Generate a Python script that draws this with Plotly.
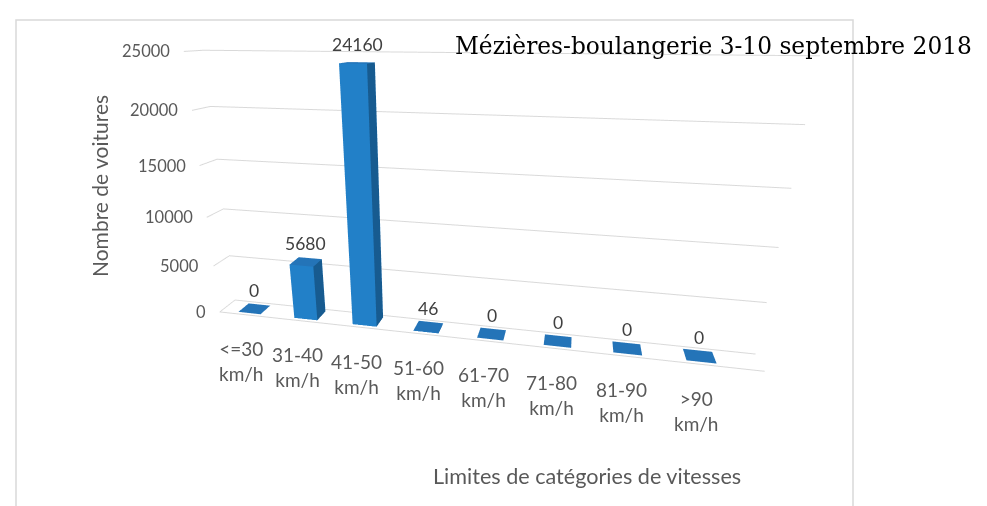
import plotly.graph_objects as go

# ---- data ----
categories = ["<=30<br>km/h", "31-40<br>km/h", "41-50<br>km/h", "51-60<br>km/h",
              "61-70<br>km/h", "71-80<br>km/h", "81-90<br>km/h", ">90<br>km/h"]
values = [0, 5680, 24160, 46, 0, 0, 0, 0]
ytick_vals = [0, 5000, 10000, 15000, 20000, 25000]
title_text = "Mézières-boulangerie 3-10 septembre 2018"
xaxis_title = "Limites de catégories de vitesses"
yaxis_title = "Nombre de voitures"

# ---- styling ----
FRONT = "#2280c8"
SIDE = "#175b90"
TOP = "#2474b8"
GRID = "#d9d9d9"
TXT = "#595959"
FONT = "Lato"

half_w = 0.2
d0, d1 = 0.15, 0.85

xs, ys, zs, I, J, K, fc = [], [], [], [], [], [], []
for idx, v in enumerate(values):
    b = len(xs)
    x0, x1 = idx - half_w, idx + half_w
    corners = [(x0, d0, 0), (x1, d0, 0), (x1, d1, 0), (x0, d1, 0),
               (x0, d0, v), (x1, d0, v), (x1, d1, v), (x0, d1, v)]
    for (cx, cy, cz) in corners:
        xs.append(cx); ys.append(cy); zs.append(cz)
    faces = [((0, 1, 5), FRONT), ((0, 5, 4), FRONT),
             ((1, 2, 6), SIDE), ((1, 6, 5), SIDE),
             ((4, 5, 6), TOP), ((4, 6, 7), TOP),
             ((0, 3, 7), FRONT), ((0, 7, 4), FRONT),
             ((3, 2, 6), FRONT), ((3, 6, 7), FRONT)]
    for (a, bb, c), col in faces:
        I.append(b + a); J.append(b + bb); K.append(b + c); fc.append(col)

fig = go.Figure()
fig.add_trace(go.Mesh3d(x=xs, y=ys, z=zs, i=I, j=J, k=K, facecolor=fc,
                        flatshading=True,
                        lighting=dict(ambient=1, diffuse=0, specular=0, roughness=1, fresnel=0),
                        hoverinfo="skip", showscale=False))

ann = []
for idx, v in enumerate(values):
    ann.append(dict(x=idx, y=0.5, z=v, text=str(v), showarrow=False,
                    yanchor="bottom", yshift=6,
                    font=dict(family=FONT, size=17.5, color="#404040")))
    ann.append(dict(x=idx, y=0, z=0, text=categories[idx], showarrow=False,
                    yanchor="top", yshift=-20, xshift=-6,
                    font=dict(family=FONT, size=19, color=TXT)))
for t in ytick_vals:
    ann.append(dict(x=-0.5, y=0, z=t, text=str(t), showarrow=False,
                    xanchor="right", xshift=-12,
                    font=dict(family=FONT, size=16.5, color=TXT)))

axis_common = dict(showbackground=False, showspikes=False, title=dict(text=""),
                   zeroline=False, showticklabels=False, ticks="")
fig.update_layout(
    width=987, height=506,
    margin=dict(l=0, r=0, t=0, b=0),
    paper_bgcolor="white",
    showlegend=False,
    scene=dict(
        domain=dict(x=[0.0, 0.86], y=[0.0, 1.0]),
        xaxis=dict(axis_common, range=[-0.5, 7.8], showgrid=False, showline=True,
                   linecolor=GRID, linewidth=2),
        yaxis=dict(axis_common, range=[0, 1], showgrid=False),
        zaxis=dict(axis_common, range=[0, 25001], tickvals=ytick_vals,
                   showgrid=True, gridcolor=GRID, gridwidth=2),
        aspectmode="manual",
        aspectratio=dict(x=2.05, y=0.12, z=1.01),
        camera=dict(eye=dict(x=0.333, y=-2.067, z=0.586), center=dict(x=-0.14, y=-0.02, z=-0.22),
                    up=dict(x=0, y=0, z=1), projection=dict(type="perspective")),
        annotations=ann,
    ),
    annotations=[
        dict(x=445 / 987, y=1 - 37 / 506, xref="paper", yref="paper", xanchor="left",
             yanchor="middle", text=title_text, showarrow=False,
             font=dict(family="DejaVu Serif", size=23.3, color="black")),
        dict(x=423 / 987, y=1 - 468 / 506, xref="paper", yref="paper", xanchor="left",
             yanchor="middle", text=xaxis_title, showarrow=False,
             font=dict(family=FONT, size=21.6, color=TXT)),
        dict(x=92 / 987, y=1 - 178 / 506, xref="paper", yref="paper", xanchor="center",
             yanchor="middle", text=yaxis_title, showarrow=False, textangle=-90,
             font=dict(family=FONT, size=21, color=TXT)),
    ],
    shapes=[dict(type="rect", xref="paper", yref="paper", x0=8 / 987, x1=845 / 987,
                 y0=-0.01, y1=1 - 12 / 506, line=dict(color=GRID, width=1.5))],
)
fig.write_html("out.html")
